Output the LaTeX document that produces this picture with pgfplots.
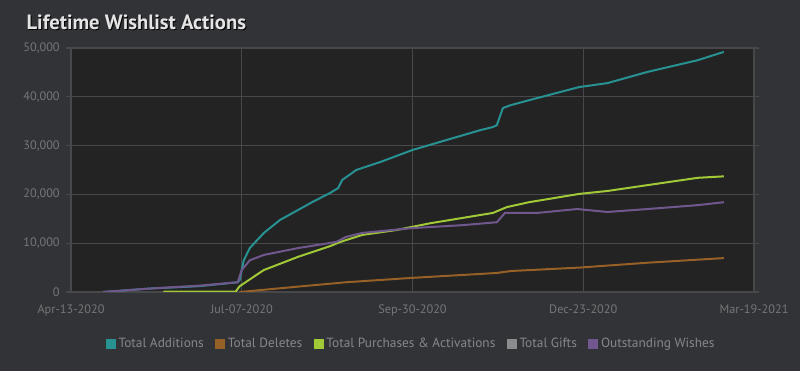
\documentclass[border=0pt]{standalone}
\usepackage{pgfplots}
\pgfplotsset{compat=1.18}
\usepackage{fontspec}
\setmainfont{PT Sans}
\definecolor{outerbg}{RGB}{50,51,55}
\definecolor{plotbg}{RGB}{35,35,36}
\definecolor{gridc}{RGB}{72,72,74}
\definecolor{tickc}{RGB}{118,118,120}
\definecolor{legc}{RGB}{135,135,138}
\definecolor{titlec}{RGB}{228,228,228}
\definecolor{cAdd}{RGB}{40,145,146}
\definecolor{cDel}{RGB}{150,96,38}
\definecolor{cPur}{RGB}{160,200,55}
\definecolor{cGift}{RGB}{140,140,140}
\definecolor{cOut}{RGB}{112,88,142}

\pgfplotstableread{
day val
16 0
39 700
64 1200
83 2000
84 2500
86 6500
89 9000
96 12100
104 14750
113 16800
120 18400
129 20300
133 21300
135 22950
142 25000
154 26640
170 29100
187 31150
204 33200
210 33800
212 34200
215 37700
219 38300
228 39300
253 42000
267 42800
287 45100
312 47500
325 49200
}\additions

\pgfplotstableread{
day val
84 0
113 1100
137 2000
170 2900
212 3900
219 4300
253 5000
287 6000
325 6950
}\deletes

\pgfplotstableread{
day val
46 100
82 100
84 1200
96 4500
113 7200
129 9400
134 10250
145 11700
162 12700
179 14100
210 16200
217 17400
228 18400
253 20100
267 20700
287 21900
312 23400
325 23700
}\purchases

\pgfplotstableread{
day val
16 0
39 700
64 1300
83 2000
85 4500
89 6500
96 7600
113 9000
132 10250
137 11300
145 12100
170 13100
195 13700
212 14300
216 16200
232 16200
252 17000
267 16400
287 17000
312 17800
325 18400
}\outstanding

\begin{document}
\begin{tikzpicture}
\path[use as bounding box, fill=outerbg] (0pt,0pt) rectangle (600pt,278.25pt);
\node[anchor=base west, inner sep=0pt, text=black, font=\fontsize{15.5pt}{18pt}\selectfont\bfseries] at (20.5pt,255.5pt) {Lifetime Wishlist Actions};
\node[anchor=base west, inner sep=0pt, text=titlec, font=\fontsize{15.5pt}{18pt}\selectfont\bfseries] at (19.75pt,256.25pt) {Lifetime Wishlist Actions};
\begin{axis}[
  at={(53.25pt,59.25pt)}, anchor=south west,
  scale only axis, width=512.25pt, height=183pt,
  xmin=0, xmax=340, ymin=0, ymax=50000,
  axis background/.style={fill=plotbg},
  axis line style={gridc, line width=0.8pt},
  grid=major, major grid style={gridc, line width=0.8pt},
  xtick={0,85,170,255,340},
  xticklabels={Apr-13-2020,Jul-07-2020,Sep-30-2020,Dec-23-2020,Mar-19-2021},
  ytick={0,10000,20000,30000,40000,50000},
  scaled y ticks=false,
  /pgf/number format/.cd, 1000 sep={,}, assume math mode=true, /pgfplots/.cd,
  tick style={gridc, line width=0.8pt},
  tick align=outside, major tick length=4pt,
  xtick style={draw=none},
  ticklabel style={text=tickc, font=\fontsize{9.2pt}{10pt}\selectfont},
  xticklabel style={yshift=-2pt},
  yticklabel style={xshift=-1pt},
  legend columns=5,
  legend style={at={(0.4985,-0.213)}, anchor=center, draw=none, fill=none,
    text=legc, font=\fontsize{10pt}{11pt}\selectfont,
    /tikz/every even column/.append style={column sep=6.5pt}},
  legend image code/.code={\fill[#1, draw=none] (0pt,-3.8pt) rectangle (7.6pt,3.8pt);},
  every axis plot/.append style={line width=1.5pt, line join=round},
]
\addplot[cAdd] table[x=day,y=val] {\additions};
\addlegendentry{Total Additions}
\addplot[cDel] table[x=day,y=val] {\deletes};
\addlegendentry{Total Deletes}
\addplot[cPur] table[x=day,y=val] {\purchases};
\addlegendentry{Total Purchases \& Activations}
\addlegendimage{cGift}
\addlegendentry{Total Gifts}
\addplot[cOut] table[x=day,y=val] {\outstanding};
\addlegendentry{Outstanding Wishes}
\end{axis}
\end{tikzpicture}
\end{document}
